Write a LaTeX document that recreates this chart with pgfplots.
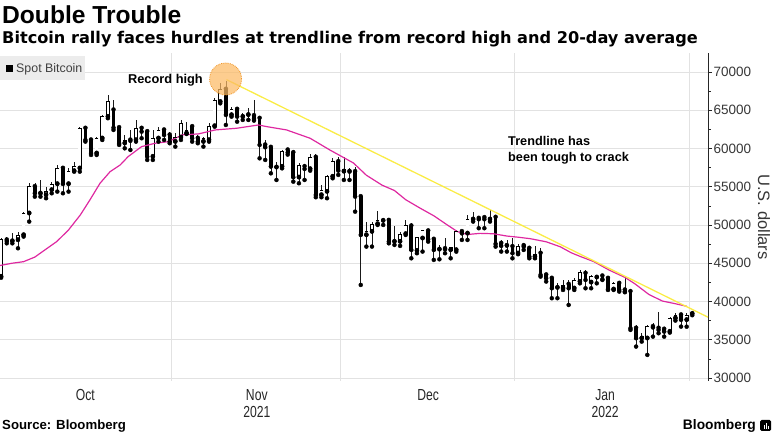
\documentclass[border=0pt]{standalone}
\usepackage{fontspec}
\setmainfont{Liberation Sans}
\newfontfamily\tickfont{Liberation Sans}
\newfontfamily\subfont{DejaVu Sans}
\newfontfamily\condfont[FakeStretch=0.76]{Liberation Sans}
\usepackage{pgfplots}
\pgfplotsset{compat=1.18}
\usepackage{pgfplotstable}
\definecolor{gridgray}{RGB}{226,226,226}
\definecolor{macolor}{RGB}{222,40,160}
\definecolor{trendcolor}{RGB}{250,236,70}
\definecolor{circfill}{RGB}{252,186,100}
\definecolor{circdraw}{RGB}{240,150,40}
\definecolor{legfill}{RGB}{236,236,236}
\definecolor{ticktext}{RGB}{55,55,55}

\pgfplotstableread{
d o h l c
0 43250 48300 43100 48170
1 48040 48400 47600 47900
2 47900 48910 47600 48170
3 48040 49130 46950 48690
4 48690 51740 48480 51530
5 51530 55450 50440 55010
6 55010 55450 53700 54140
7 54140 55880 53700 54100
8 53920 55010 53490 54440
9 54580 55660 54140 55360
10 55360 57840 54360 57410
11 57410 57630 54140 55360
12 55360 57400 54360 57060
13 57060 58280 56970 57630
14 57410 62850 56970 62640
15 62640 62850 60900 61110
16 61110 61330 59150 59370
17 59370 61550 59150 61330
18 61330 64380 61110 64160
19 64160 67000 63950 66120
20 65030 66340 62420 62720
21 62720 62900 60460 60680
22 60680 61760 60020 61110
23 61100 62420 59800 61000
24 61110 63730 60890 62640
25 62640 62850 61330 62200
26 62200 62420 58500 58930
27 58930 62420 58500 61330
28 61330 62850 60890 62420
29 62420 62640 61110 61760
30 61760 62200 60680 60890
31 60890 61980 60240 61460
32 61460 63730 61110 63290
33 61980 63510 61900 62420
34 62850 63070 60890 61330
35 61330 61760 60680 60890
36 60890 61550 60240 61330
37 61110 63290 60890 62940
38 62940 66560 62850 66340
39 66100 68520 65900 67740
40 67740 68870 63070 64380
41 64380 65470 64160 65120
42 65120 65250 63500 64160
43 64160 64600 63730 64400
44 64400 65250 63730 64500
45 64290 66340 63640 63860
46 63940 64160 58710 60460
47 60460 61110 58500 60150
48 60150 60460 56750 57630
49 57540 58280 55880 57850
50 57630 59800 57400 59590
51 59800 60020 59200 59460
52 59460 59800 55660 56230
53 56230 58060 55450 57840
54 57630 57840 55880 57320
55 57320 59280 57100 58850
56 58850 59280 53620 53920
57 53920 55230 53620 54580
58 54360 56540 53490 56320
59 56320 58720 56100 58280
60 58280 58850 56540 57100
61 57000 58900 55880 57300
62 57000 57400 55880 56970
63 56970 57630 51740 53700
64 53700 53920 42160 48690
65 48690 50440 47170 49130
66 49130 50440 47170 50130
67 50130 51870 50000 50570
68 50570 50870 50000 50600
69 50600 50700 47600 47830
70 47830 49870 47390 47900
71 47830 49130 47260 48830
72 48830 50660 48690 50000
73 49870 50220 45640 46730
74 46640 48480 46300 48390
75 48260 49350 46520 49260
76 49220 49350 47820 48130
77 48130 48130 45430 46730
78 46810 47390 45510 46830
79 46900 48260 46300 46810
80 46730 47170 45640 47040
81 46730 49350 46510 49130
82 49130 49350 48040 48900
83 48900 51310 48040 50740
84 50740 51740 50440 50870
85 50870 51090 49570 50740
86 50960 51050 49570 50740
87 50740 51960 50440 50870
88 51000 51050 47170 47520
89 47600 48040 46520 47260
90 47300 48040 46520 47400
91 47170 48260 45640 46300
92 46300 47520 46170 47260
93 47300 47600 46730 47170
94 46950 47170 45640 45860
95 45860 47300 45640 46210
96 46300 46950 43250 43470
97 43470 43700 42600 43030
98 43030 43030 40420 41720
99 41810 42370 40420 41850
100 41720 42810 41500 42160
101 42240 42810 39540 41720
102 41720 43030 41500 42810
103 42590 44120 42370 43770
104 43680 44120 41720 42810
105 42500 43460 41720 43250
106 43160 43460 42370 43200
107 43330 43460 42810 42900
108 43030 43250 41500 41590
109 41590 42590 41500 42370
110 42370 42590 41290 41500
111 41500 43250 41200 41290
112 41290 41500 36280 36500
113 36500 36930 34100 35190
114 35190 35840 34750 35500
115 35190 36930 33010 36710
116 36710 37150 35400 36600
117 36500 38670 35840 36280
118 36370 36710 35400 36060
119 36060 37930 35930 37800
120 37800 38460 37500 38240
121 38240 38460 36710 37590
122 37590 38460 36700 38240
123 38400 38700 38200 38500
}\candles

\pgfplotstableread{
d v
-0.2 44700
2 45000
4 45200
6 45800
7.8 46740
9.9 47830
12 49350
14.1 51310
15.8 53270
17.6 55450
19.4 56970
21.2 57850
22.6 58930
25 60240
27.4 60680
29.8 60890
32.2 61770
35.1 61900
38.1 62420
41.9 62640
45.8 63070
47.3 62850
50.8 62420
55 61330
58.5 59800
61.2 58710
62.7 58100
65 56500
67.8 55200
70 54500
72 53300
74.6 52180
77 51200
79.2 50100
81.2 49130
83 48750
85.2 48900
87.6 48850
90 48550
92 48400
94.2 48200
97 47800
99.5 47150
101.5 46350
103 45900
105.5 45200
108.2 44100
111 43150
112.8 42300
115.3 40900
117.7 40050
120 39700
122 39370
}\mavg

\begin{document}
\begin{tikzpicture}[x=1pt,y=1pt]
\useasboundingbox (0,0) rectangle (775,435);
\begin{axis}[
  at={(0pt,54pt)}, anchor=south west,
  scale only axis, width=708pt, height=328pt,
  xmin=-0.2, xmax=125.8, ymin=29600, ymax=72480,
  axis y line*=right, axis x line*=bottom,
  x axis line style={draw=none},
  y axis line style={draw=black!85, line width=0.7pt},
  xtick={15,45.5,76,107.5},
  xticklabels={Oct, Nov\\2021, Dec, Jan\\2022},
  xticklabel style={font=\condfont\fontsize{16}{17}\selectfont, text=black!85, align=center, yshift=-1pt},
  major x tick style={draw=none},
  extra x ticks={30.3,60.4,91.4,122.5},
  extra x tick labels={},
  extra x tick style={grid=major, major tick length=0pt},
  ytick={30000,35000,...,70000},
  scaled y ticks=false,
  minor y tick num=1,
  ymajorgrids,
  grid style={draw=gridgray, line width=0.7pt},
  tick align=outside,
  major tick length=4pt, minor tick length=2.5pt,
  y tick style={draw=black!85, line width=0.6pt},
  /pgf/number format/1000 sep={},
  /pgf/number format/assume math mode=true,
  yticklabel style={font=\tickfont\fontsize{13.5}{14}\selectfont, text=ticktext, xshift=-2pt},
  clip=true,
]
% wicks
\addplot[only marks, mark=none, forget plot,
  error bars/.cd, y dir=plus, y explicit, error mark=none,
  error bar style={draw=black!90, line width=0.6pt}]
  table[x=d, y=l, y error expr=\thisrow{h}-\thisrow{l}] {\candles};
% bodies (black frame)
\addplot[only marks, mark=none, forget plot,
  error bars/.cd, y dir=plus, y explicit, error mark=none,
  error bar style={draw=black, line width=3.7pt}]
  table[x=d, y expr={min(\thisrow{o},\thisrow{c})}, y error expr={abs(\thisrow{c}-\thisrow{o})}] {\candles};
% white interior of rising candles
\addplot[only marks, mark=none, forget plot,
  error bars/.cd, y dir=plus, y explicit, error mark=none,
  error bar style={draw=white, line width=2.75pt}]
  table[x=d, y expr={\thisrow{o}+65}, y error expr={max(\thisrow{c}-\thisrow{o}-130,0)}] {\candles};
% open / close ticks
\addplot[only marks, mark=-, mark size=1.85pt, mark options={line width=0.5pt, draw=black}, forget plot]
  table[x=d, y=o] {\candles};
\addplot[only marks, mark=-, mark size=1.85pt, mark options={line width=0.5pt, draw=black}, forget plot]
  table[x=d, y=c] {\candles};
% 20-day average
\addplot[macolor, line width=1.2pt, no marks] table[x=d, y=v] {\mavg};
% record high marker
\addplot[only marks, mark=*, mark size=16pt,
  mark options={fill=circfill, fill opacity=0.72, draw=circdraw, densely dotted, line width=0.8pt}]
  coordinates {(39.95,69085)};
% trendline
\addplot[trendcolor, line width=1.3pt, no marks] coordinates {(40.1,69000) (125.8,37940)};
\end{axis}
% legend
\fill[legfill] (0,355) rectangle (85,379);
\fill[black] (6,363) rectangle (13,370);
\node[anchor=base west, inner sep=0pt, font=\fontsize{12.4}{13}\selectfont, text=black!75] at (16,362.5) {Spot Bitcoin};
% titles
\node[anchor=base west, inner sep=0pt, font=\bfseries\fontsize{24.6}{28}\selectfont] at (2,411) {Double Trouble};
\node[anchor=base west, inner sep=0pt, font=\subfont\bfseries\fontsize{16.15}{18}\selectfont] at (2,391) {Bitcoin rally faces hurdles at trendline from record high and 20-day average};
% annotations
\node[anchor=base east, inner sep=0pt, font=\bfseries\fontsize{12.8}{14}\selectfont] at (203,351.5) {Record high};
\node[anchor=base west, inner sep=0pt, font=\bfseries\fontsize{12.7}{14}\selectfont] at (508,289) {Trendline has};
\node[anchor=base west, inner sep=0pt, font=\bfseries\fontsize{12.7}{14}\selectfont] at (508,273) {been tough to crack};
% axis title
\node[rotate=-90, inner sep=0pt, font=\fontsize{16.5}{18}\selectfont, text=ticktext] at (764,218) {U.S. dollars};
% footer
\node[anchor=base west, inner sep=0pt, font=\bfseries\fontsize{13.2}{15}\selectfont] at (2,5) {Source: Bloomberg};
\node[anchor=base east, inner sep=0pt, font=\bfseries\fontsize{13.8}{15}\selectfont] at (756,5) {Bloomberg};
\fill[black, rounded corners=1.5pt] (760,4) rectangle (771,15);
\fill[white] (763.5,6) rectangle (764.5,10);
\fill[white] (765.5,6) rectangle (766.5,12);
\fill[white] (767.5,6) rectangle (768.5,9);
\end{tikzpicture}
\end{document}
